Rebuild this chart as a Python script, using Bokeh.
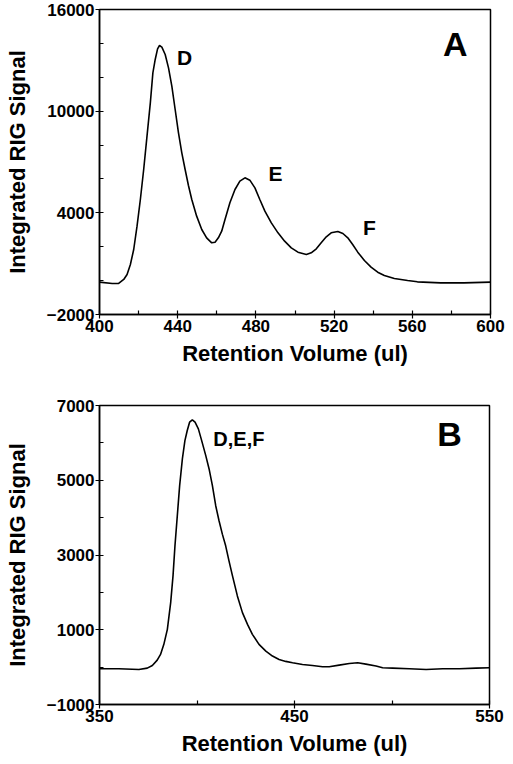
from bokeh.plotting import figure
from bokeh.layouts import column
from bokeh.models import FixedTicker, Label
from bokeh.embed import file_html
from bokeh.resources import INLINE

# Panel A data (retention volume, signal)
a_x = [400.0, 406.5, 409.8, 412.4, 414.1, 415.8, 417.5, 419.2, 420.9, 422.6, 424.3, 426.0,
       427.3, 428.5, 429.7, 430.7, 431.9, 433.6, 435.3, 437.0, 438.7, 440.4, 442.1, 443.8,
       445.5, 447.2, 449.7, 452.3, 454.8, 457.4, 459.1, 460.8, 462.5, 464.2, 466.7, 469.3,
       471.8, 474.4, 476.9, 479.5, 482.0, 484.6, 487.9, 491.3, 494.7, 498.1, 501.5, 505.8,
       508.3, 510.9, 513.4, 516.0, 518.5, 521.9, 524.5, 527.0, 529.5, 532.1, 535.5, 538.9,
       542.3, 545.7, 550.8, 557.6, 562.6, 574.5, 586.4, 600.0]
a_y = [-92, -170, -170, 66, 361, 951, 1836, 3213, 4787, 6558, 8525, 10492,
       12263, 13050, 13679, 13876, 13778, 13345, 12558, 11476, 10099, 8722, 7541, 6558,
       5613, 4787, 3804, 3017, 2525, 2230, 2269, 2525, 2918, 3607, 4590, 5377,
       5869, 6066, 5928, 5476, 4787, 4099, 3410, 2820, 2328, 1935, 1679, 1541,
       1640, 1876, 2230, 2584, 2820, 2899, 2781, 2525, 2131, 1679, 1187, 794,
       498, 302, 125, 7, -72, -131, -131, -92]

# Panel B data (retention volume, signal)
b_x = [350.0, 359.9, 370.2, 374.5, 377.1, 379.6, 381.3, 383.0, 384.8, 386.5, 387.7, 388.7,
       389.9, 391.1, 392.5, 393.8, 395.0, 396.2, 397.6, 399.0, 400.7, 402.4, 404.5, 406.2,
       407.9, 409.6, 411.3, 413.0, 414.7, 416.4, 418.2, 420.7, 423.3, 425.9, 428.4, 431.8,
       435.3, 438.7, 442.1, 445.5, 449.0, 454.1, 459.2, 464.4, 467.8, 472.9, 478.1, 482.4,
       486.6, 491.8, 495.2, 500.3, 508.9, 517.5, 526.0, 534.6, 543.2, 550.0]
b_y = [-44, -44, -62, -26, 45, 188, 340, 609, 1011, 1726, 2441, 3246,
       4050, 4855, 5570, 6061, 6330, 6553, 6616, 6553, 6374, 6061, 5659, 5302,
       4855, 4318, 3916, 3558, 3246, 2843, 2441, 1905, 1458, 1145, 877, 609,
       430, 296, 206, 153, 117, 72, 45, 10, 10, 54, 99, 117,
       81, 28, -17, -26, -44, -62, -44, -44, -26, -17]

a_xticks = [400, 440, 480, 520, 560, 600]
a_xminor = [420, 460, 500, 540, 580]
a_yticks = [-2000, 4000, 10000, 16000]
a_yminor = [0, 2000, 6000, 8000, 12000, 14000]
b_xticks = [350, 450, 550]
b_xminor = [400, 500]
b_yticks = [-1000, 1000, 3000, 5000, 7000]
b_yminor = [0, 2000, 4000, 6000]

a_peaks = ["D", "E", "F"]
a_peak_x = [443.5, 490.0, 538.1]
a_peak_y = [13140, 6350, 3105]
b_peak_label = "D,E,F"

FONT = "Liberation Sans"


def style(p, xt, xm, yt, ym):
    p.xaxis.ticker = FixedTicker(ticks=xt, minor_ticks=xm)
    p.yaxis.ticker = FixedTicker(ticks=yt, minor_ticks=ym)
    p.grid.visible = False
    p.outline_line_color = "black"
    p.outline_line_width = 1.5
    for ax in (p.xaxis[0], p.yaxis[0]):
        ax.axis_line_width = 1.5
        ax.axis_line_color = "black"
        ax.major_tick_line_color = "black"
        ax.minor_tick_line_color = "black"
        ax.major_tick_line_width = 1.2
        ax.minor_tick_line_width = 1.2
        ax.major_tick_in = 4
        ax.major_tick_out = 4
        ax.minor_tick_in = 4
        ax.minor_tick_out = 0
        ax.major_label_text_font = FONT
        ax.major_label_text_font_style = "bold"
        ax.major_label_text_font_size = "17px"
        ax.major_label_text_color = "black"
        ax.major_label_standoff = 1
        ax.axis_label_text_font = FONT
        ax.axis_label_text_font_style = "bold"
        ax.axis_label_text_font_size = "22px"
        ax.axis_label_text_color = "black"
    p.xaxis.axis_label = "Retention Volume (ul)"
    p.yaxis.axis_label = "Integrated RIG Signal"
    p.xaxis.axis_label_standoff = 6
    p.yaxis.axis_label_standoff = 14
    p.yaxis.major_label_orientation = "horizontal"


pA = figure(frame_width=391, frame_height=305, x_range=(400, 600), y_range=(-2000, 16000),
            output_backend="svg", toolbar_location=None,
            min_border_left=99, min_border_right=15, min_border_top=9, min_border_bottom=60)
style(pA, a_xticks, a_xminor, a_yticks, a_yminor)
pA.line(a_x, a_y, line_color="black", line_width=1.6)
for t, x, y in zip(a_peaks, a_peak_x, a_peak_y):
    pA.add_layout(Label(x=x, y=y, text=t, text_font=FONT, text_font_style="bold",
                        text_font_size="21px", text_align="center", text_baseline="middle",
                        text_color="black"))
pA.add_layout(Label(x=582, y=13990, text="A", text_font=FONT, text_font_style="bold",
                    text_font_size="34px", text_align="center", text_baseline="middle",
                    text_color="black"))

pB = figure(frame_width=390, frame_height=299, x_range=(350, 550), y_range=(-1000, 7000),
            output_backend="svg", toolbar_location=None,
            min_border_left=99, min_border_right=16, min_border_top=31, min_border_bottom=44)
style(pB, b_xticks, b_xminor, b_yticks, b_yminor)
pB.line(b_x, b_y, line_color="black", line_width=1.6)
pB.add_layout(Label(x=421.5, y=6104, text=b_peak_label, text_font=FONT, text_font_style="bold",
                    text_font_size="20px", text_align="center", text_baseline="middle",
                    text_color="black"))
pB.add_layout(Label(x=529.5, y=6250, text="B", text_font=FONT, text_font_style="bold",
                    text_font_size="34px", text_align="center", text_baseline="middle",
                    text_color="black"))

layout = column(pA, pB, spacing=0)
open("out.html", "w").write(file_html(layout, INLINE))
